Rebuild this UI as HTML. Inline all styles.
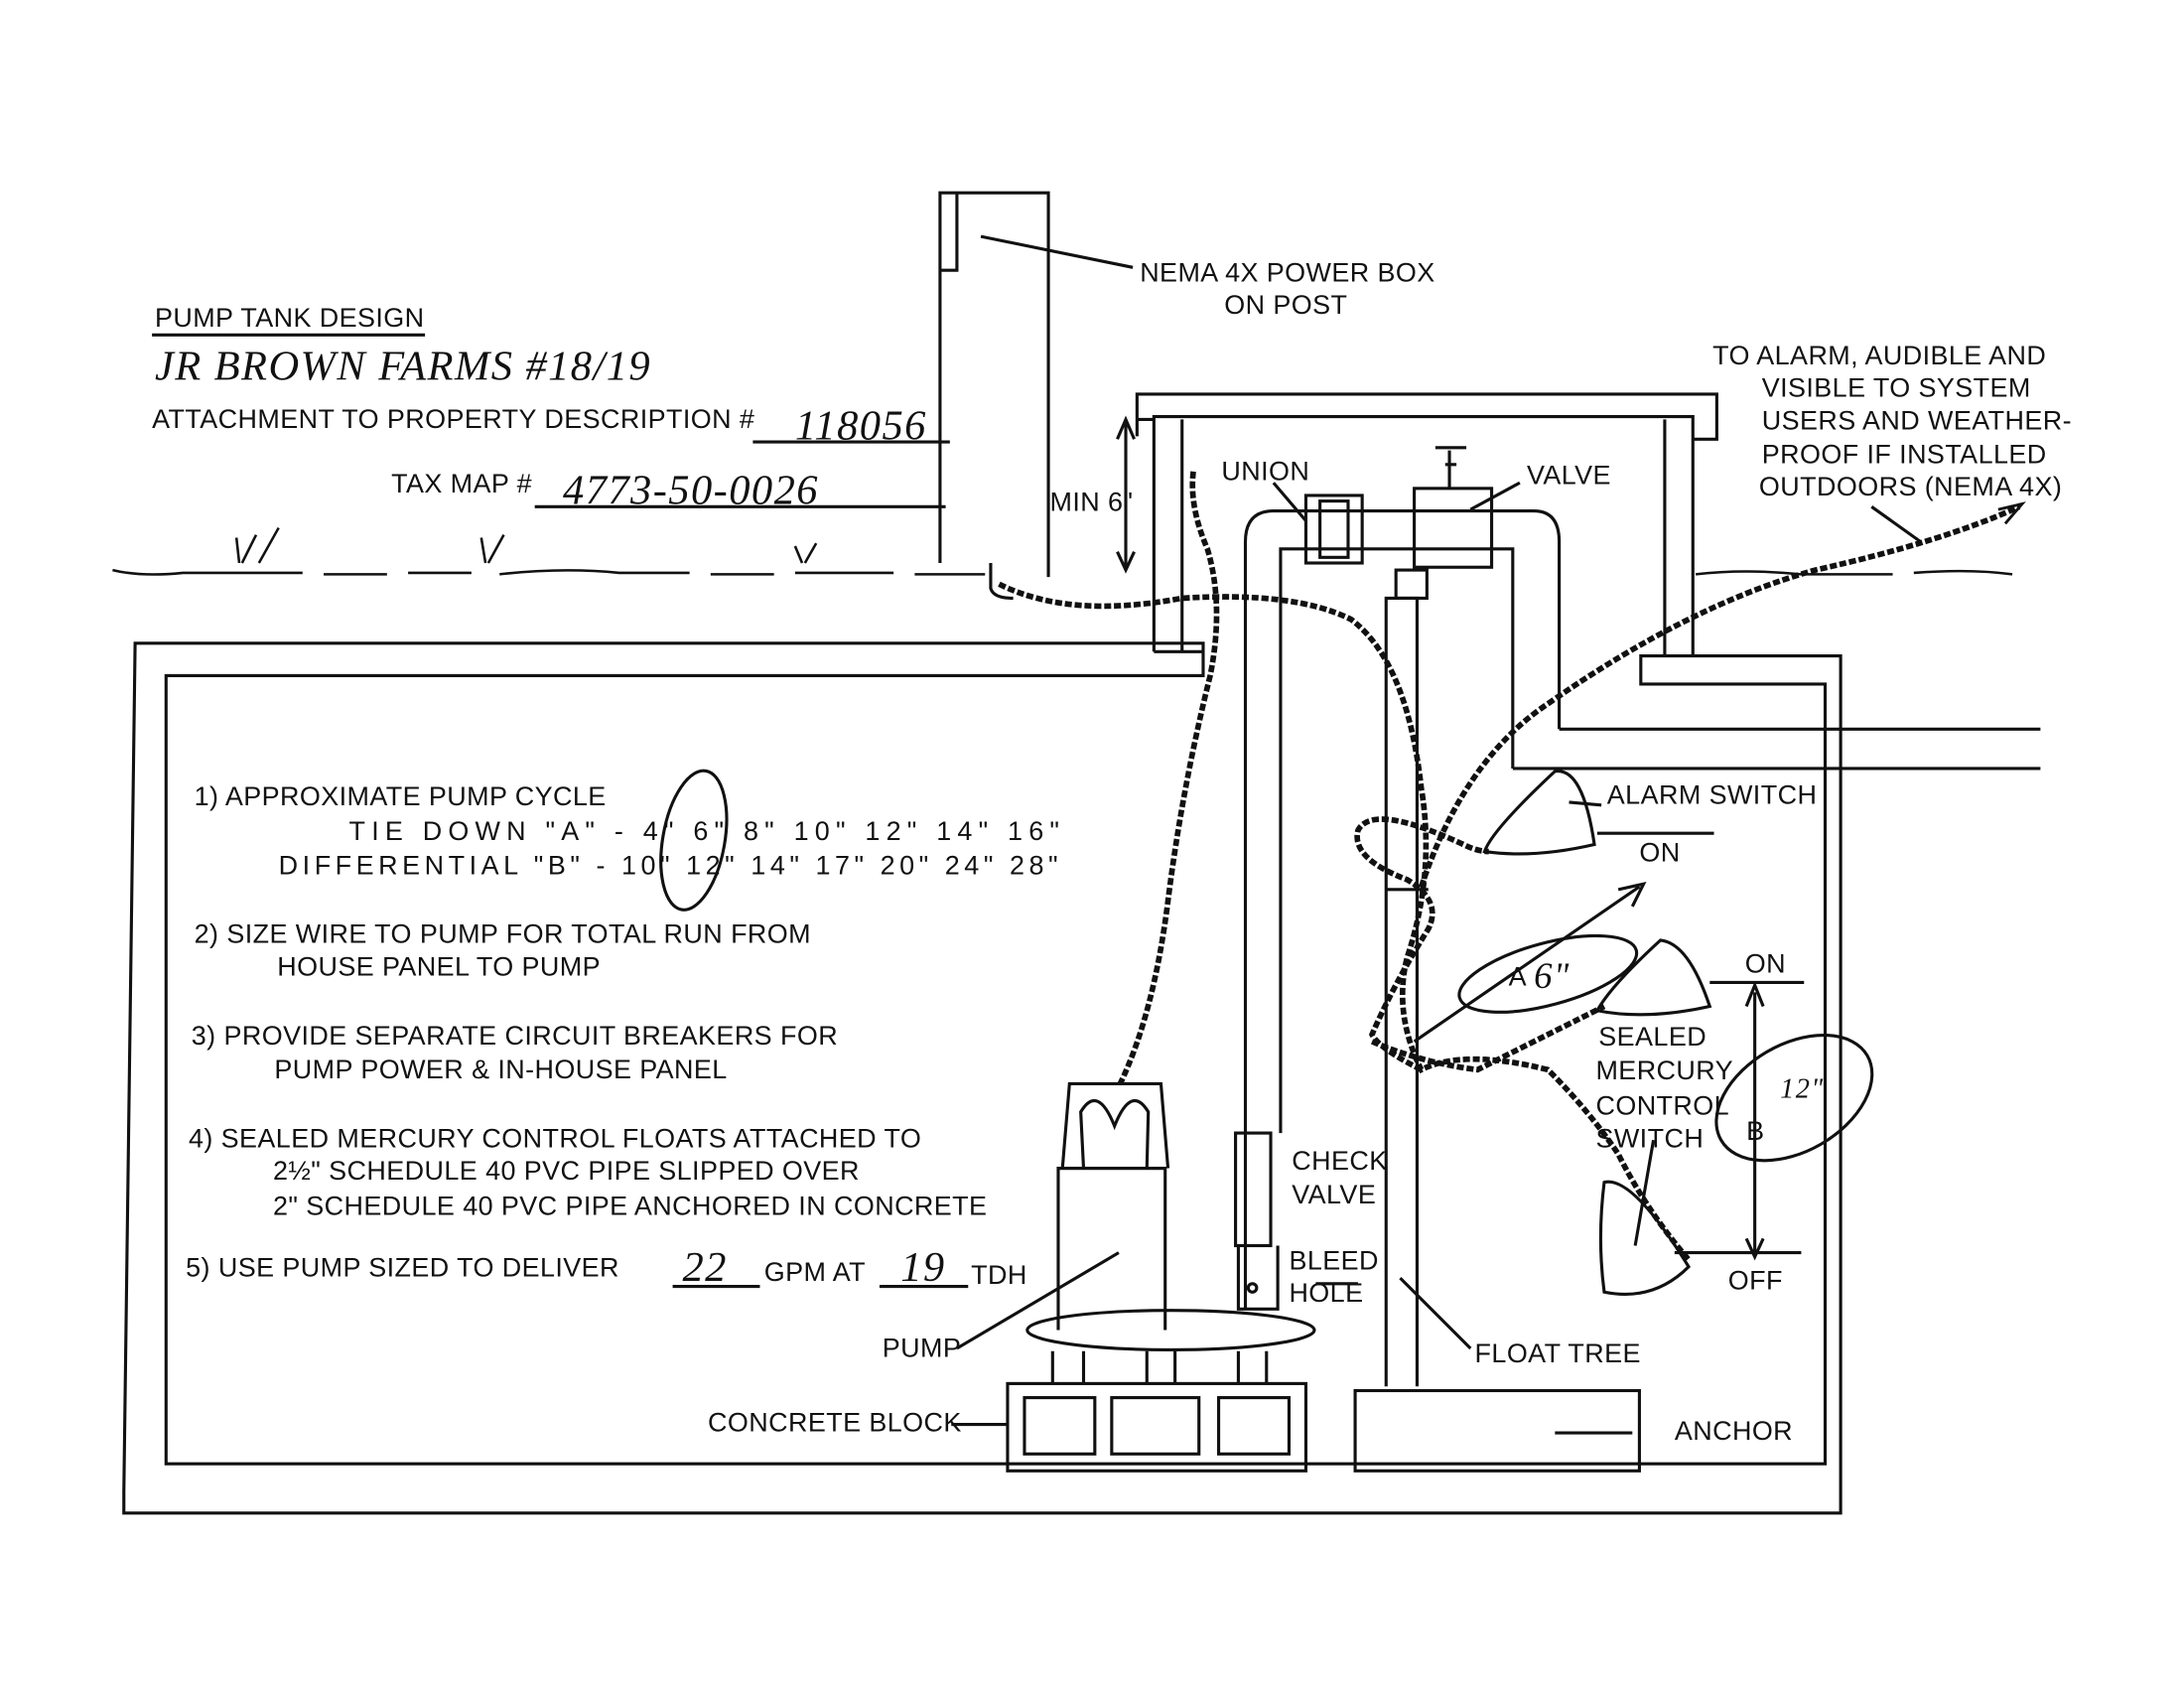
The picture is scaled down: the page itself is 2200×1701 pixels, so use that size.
<!DOCTYPE html>
<html><head><meta charset="utf-8"><style>
html,body{margin:0;padding:0;background:#fff;}
svg{display:block;}
text{font-family:"Liberation Sans",sans-serif;font-size:19px;fill:#111;letter-spacing:0.3px;}
.h{font-family:"Liberation Serif",serif;font-style:italic;font-size:30px;letter-spacing:1px;}
</style></head><body>
<svg width="2200" height="1701" viewBox="0 0 1552 1200" xmlns="http://www.w3.org/2000/svg">
<g fill="none" stroke="#111" stroke-width="2.2">
<path d="M855 457 H96 L88 1060 V1075 H1308 V466 H1166 V486 H1297 V1040 H118 V480 H855 Z"/>
<path d="M820 463 V296 H1203 V466"/>
<path d="M840 463 V298 M1183 466 V298"/>
<path d="M808 310 V280 H1220 V312 H1203"/>
<path d="M820 298 H808"/>
<path d="M820 463 H855"/>
<path d="M1108 518 H1450 M1297 546 H1450"/>
<path d="M1075 546 H1297"/>
<path d="M885 930 V385 Q885 363 905 363 H1090 Q1108 363 1108 385 V518"/>
<path d="M910 805 V390 H1075 V546"/>
<rect x="928" y="352" width="40" height="48"/>
<rect x="938" y="356" width="20" height="40"/>
<rect x="1005" y="347" width="55" height="56"/>
<path d="M1030 347 V320 M1020 318 H1042 M1027 330 H1035"/>
<rect x="878" y="805" width="25" height="80"/>
<path d="M880 885 V930 H908 V885"/>
<circle cx="890" cy="915" r="3"/>
<path d="M985 985 V425 H1007 V985"/>
<rect x="992" y="405" width="22" height="20"/>
<path d="M985 632 H1015"/>
<rect x="963" y="988" width="202" height="57"/>
<rect x="716" y="983" width="212" height="62"/>
<rect x="728" y="993" width="50" height="40"/>
<rect x="790" y="993" width="62" height="40"/>
<rect x="866" y="993" width="50" height="40"/>
<ellipse cx="832" cy="945" rx="102" ry="14"/>
<path d="M752 945 V830 H828 V945"/>
<path d="M755 830 L760 770 H825 L830 830 M770 830 L768 790 Q780 770 792 800 Q804 770 816 790 L815 830"/>
<path d="M752 830 H828"/>
<path d="M748 960 V983 M770 960 V983 M815 960 V983 M835 960 V983 M880 960 V983 M900 960 V983"/>
<path d="M668 400 V137 H745 V410"/>
<path d="M680 137 V192 H668 M680 150 V192"/>
<path d="M704 400 V418 Q706 425 720 425"/>
<path d="M1105 548 Q1125 545 1133 600 Q1090 610 1055 605 Q1060 590 1105 548 Z"/>
<path d="M1180 668 Q1200 670 1215 715 Q1170 725 1135 718 Q1145 700 1180 668 Z"/>
<path d="M1140 840 Q1160 835 1200 900 Q1175 925 1140 918 Q1135 880 1140 840 Z"/>
<path d="M1135 592 H1218 M1215 698 H1282 M1190 890 H1280"/>
<path d="M1247 705 V890 M1241 715 L1247 700 L1253 715 M1241 880 L1247 893 L1253 880"/>
<path d="M800 298 V403 M794 312 L800 298 L806 312 M794 392 L800 405 L806 392"/>
<path d="M1005 740 L1165 630 M1150 632 L1168 628 L1160 644"/>
<ellipse cx="1100" cy="692" rx="65" ry="22" transform="rotate(-15 1100 692)"/>
<ellipse cx="1275" cy="780" rx="60" ry="38" transform="rotate(-30 1275 780)"/>
<ellipse cx="493" cy="597" rx="22" ry="50" transform="rotate(10 493 597)"/>
<path d="M697 168 L805 190"/>
<path d="M905 343 L928 370"/>
<path d="M1080 343 L1045 362"/>
<path d="M1330 360 L1365 385"/>
<path d="M1138 572 L1115 570"/>
<path d="M1175 810 L1162 885"/>
<path d="M680 958 L795 890"/>
<path d="M676 1012 H716"/>
<path d="M935 912 H965"/>
<path d="M1045 958 L995 908"/>
<path d="M1105 1018 H1160"/>
<path d="M108 238 H302 M535 314 H675 M380 360 H672 M478 914 H540 M625 914 H688"/>
</g>
<path d="M80 405 Q100 410 130 407 H215 M230 408 H275 M290 407 H335 M355 408 Q400 403 440 407 H490 M505 408 H550 M565 407 H635 M650 408 H700 M1205 408 Q1240 404 1280 408 H1345 M1360 407 Q1400 404 1430 408" fill="none" stroke="#111" stroke-width="1.8"/>
<path d="M170 400 L168 382 M172 400 L182 380 M184 400 L198 375 M345 400 L342 382 M347 400 L358 380 M570 400 L565 388 M572 400 L580 386" stroke="#111" stroke-width="1.8" fill="none"/>
<g fill="none" stroke="#111" stroke-width="4" stroke-dasharray="5 2">
<path d="M848 335 Q845 360 858 390 Q870 430 860 480 Q840 560 830 640 Q820 720 796 770"/>
<path d="M710 415 Q760 440 840 425 Q920 420 960 440 Q1000 470 1010 560 Q1020 620 1000 680 Q990 720 1010 760 Q1040 745 1100 760 Q1130 790 1150 820 Q1170 860 1200 895"/>
<path d="M1010 760 Q980 745 975 735 Q990 700 1015 660 Q1025 640 1000 625 Q960 610 965 590 Q975 570 1040 600 Q1050 605 1058 605"/>
<path d="M1010 630 Q1040 540 1100 500 Q1200 430 1290 405 Q1380 385 1435 360"/>
<path d="M975 740 Q1010 755 1050 760 Q1090 740 1140 715"/>
</g>
<path d="M1420 362 L1437 358 L1425 372" fill="none" stroke="#111" stroke-width="2"/>
<text x="110" y="232">PUMP TANK DESIGN</text>
<text class="h" x="110" y="270">JR BROWN FARMS #18/19</text>
<text x="108" y="304">ATTACHMENT TO PROPERTY DESCRIPTION #</text>
<text class="h" x="565" y="312">118056</text>
<text x="278" y="350">TAX MAP #</text>
<text class="h" x="400" y="358">4773-50-0026</text>
<text x="810" y="200">NEMA 4X POWER BOX</text>
<text x="870" y="223">ON POST</text>
<text x="1217" y="259">TO ALARM, AUDIBLE AND</text>
<text x="1252" y="282">VISIBLE TO SYSTEM</text>
<text x="1252" y="305">USERS AND WEATHER-</text>
<text x="1252" y="329">PROOF IF INSTALLED</text>
<text x="1250" y="352">OUTDOORS (NEMA 4X)</text>
<text x="868" y="341">UNION</text>
<text x="1085" y="344">VALVE</text>
<text x="746" y="363">MIN 6"</text>
<text x="1142" y="571">ALARM SWITCH</text>
<text x="1165" y="612">ON</text>
<text x="1240" y="691">ON</text>
<text x="1136" y="743">SEALED</text>
<text x="1134" y="767">MERCURY</text>
<text x="1134" y="792">CONTROL</text>
<text x="1134" y="815">SWITCH</text>
<text x="1241" y="810">B</text>
<text x="1265" y="780" class="h" style="font-size:20px">12"</text>
<text x="1072" y="700">A</text>
<text class="h" x="1090" y="702" style="font-size:26px">6"</text>
<text x="1228" y="916">OFF</text>
<text x="918" y="831">CHECK</text>
<text x="918" y="855">VALVE</text>
<text x="916" y="902">BLEED</text>
<text x="916" y="925">HOLE</text>
<text x="1048" y="968">FLOAT TREE</text>
<text x="1190" y="1023">ANCHOR</text>
<text x="627" y="964">PUMP</text>
<text x="503" y="1017">CONCRETE BLOCK</text>
<text x="138" y="572">1) APPROXIMATE PUMP CYCLE</text>
<text x="248" y="597" textLength="505" lengthAdjust="spacing">TIE DOWN "A" - 4" 6" 8" 10" 12" 14" 16"</text>
<text x="198" y="621" textLength="554" lengthAdjust="spacing">DIFFERENTIAL "B" - 10" 12" 14" 17" 20" 24" 28"</text>
<text x="138" y="670">2) SIZE WIRE TO PUMP FOR TOTAL RUN FROM</text>
<text x="197" y="693">HOUSE PANEL TO PUMP</text>
<text x="136" y="742">3) PROVIDE SEPARATE CIRCUIT BREAKERS FOR</text>
<text x="195" y="766">PUMP POWER &amp; IN-HOUSE PANEL</text>
<text x="134" y="815">4) SEALED MERCURY CONTROL FLOATS ATTACHED TO</text>
<text x="194" y="838">2½" SCHEDULE 40 PVC PIPE SLIPPED OVER</text>
<text x="194" y="863">2" SCHEDULE 40 PVC PIPE ANCHORED IN CONCRETE</text>
<text x="132" y="907">5) USE PUMP SIZED TO DELIVER</text>
<text class="h" x="485" y="910">22</text>
<text x="543" y="910">GPM AT</text>
<text class="h" x="640" y="910">19</text>
<text x="690" y="912">TDH</text>
</svg>
</body></html>
